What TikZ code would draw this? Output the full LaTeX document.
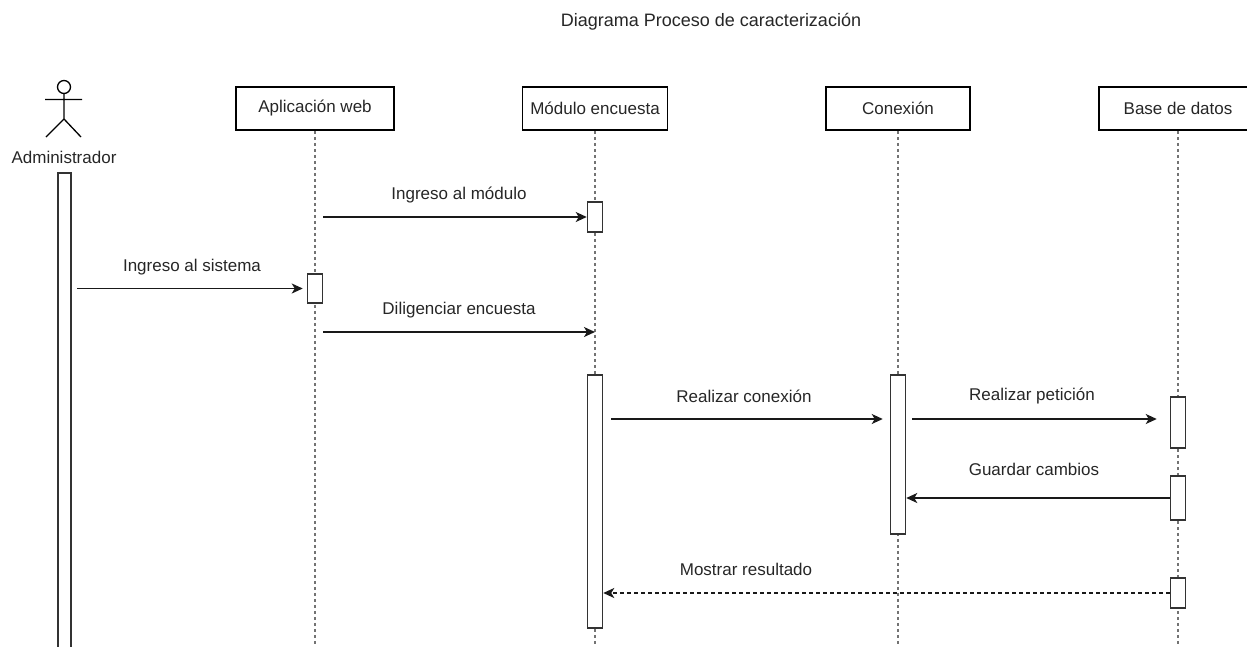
\documentclass[tikz,border=0pt]{standalone}
\usepackage{fontspec}
\setmainfont{Liberation Sans}
\usetikzlibrary{arrows.meta,calc,positioning}
\newcommand\lblfont{\fontsize{17}{20}\selectfont}
\newcommand\titlefont{\fontsize{18}{21}\selectfont}
\tikzset{
	actor/.pic={
		\draw[line width=1.3pt] (0,0) circle (6.5pt);
		\draw[line width=1.3pt] (0,6.5) -- (0,32) (-19,12.5) -- (18,12.5)
		(-18,50) -- (0,32) -- (17,50);
	},
}
\begin{document}
\begin{tikzpicture}[x=1pt, y=-1pt, >={Stealth[length=11pt,width=10pt,inset=3pt]},
	lifebox/.style={draw, line width=1.5pt, minimum height=43pt, inner sep=0pt, font=\lblfont, text=black!85},
	lifeline/.style={line width=1.7pt, black!55, dash pattern=on 3pt off 3pt},
	actbar/.style={draw, line width=1.5pt, black!80, fill=white, minimum width=15pt, inner sep=0pt},
	msg/.style={->, line width=1.7pt, black!90},
	reply/.style={msg, dash pattern=on 4pt off 3pt},
	lbl/.style={font=\lblfont, text=black!85}]
\useasboundingbox (0,0) rectangle (1247,646);
\coordinate (bot) at (0,652);

% the title
\node[font=\titlefont, text=black!85] (title) at (711,22) {Diagrama Proceso de caracterización};

% the heads
\path (64,87) pic {actor};
\node[lbl] (admin) at (64,157) {Administrador};
\node[lifebox, minimum width=158pt] (app) at (315,108.5) {Aplicación web};
\node[lifebox, minimum width=145pt] (mod) at (595,108.5) {Módulo encuesta};
\node[lifebox, minimum width=144pt] (con) at (898,108.5) {Conexión};
\node[lifebox, minimum width=158pt] (db) at (1178,108.5) {Base de datos};

% the lifelines
\foreach \L in {app,mod,con,db}
	\draw[lifeline] (\L.south) -- (\L.south |- bot);

% the activations
\node[actbar, minimum width=13pt, minimum height=485pt] (adminact) at (64.5,415.5) {};
\node[actbar, minimum height=29pt] (appact) at (315,288.5) {};
\node[actbar, minimum height=30pt] (modact1) at (595,217) {};
\node[actbar, minimum height=253pt] (modact2) at (595,501.5) {};
\node[actbar, minimum height=159pt] (conact) at (898,454.5) {};
\node[actbar, minimum height=51pt] (dbact1) at (1178,422.5) {};
\node[actbar, minimum height=44pt] (dbact2) at (1178,498) {};
\node[actbar, minimum height=30pt] (dbact3) at (1178,593) {};

% the arrows
\coordinate (s1) at (323,217);
\coordinate (s2) at (77,288.5);
\coordinate (s3) at (323,332);
\coordinate (s4) at (611,419);
\coordinate (s5) at (912,419);
\draw[msg] (s1) -- (modact1);
\draw[msg, shorten >=4pt] (s2) -- (appact);
\draw[msg] (s3) -- (mod.south |- s3);
\draw[msg, shorten >=7pt] (s4) -- (conact.west |- s4);
\draw[msg, shorten >=13pt] (s5) -- (dbact1.west |- s5);
\draw[msg] (dbact2.west) -- (conact.east |- dbact2.west);
\draw[reply] (dbact3.west) -- (modact2.east |- dbact3.west);

%the names
\node[lbl] (m1) at (459,195) {Ingreso al módulo};
\node[lbl] (m2) at (192,267) {Ingreso al sistema};
\node[lbl] (m3) at (459,310) {Diligenciar encuesta};
\node[lbl] (m4) at (744,396) {Realizar conexión};
\node[lbl] (m5) at (1032,396) {Realizar petición};
\node[lbl] (m6) at (1034,469) {Guardar cambios};
\node[lbl] (m7) at (746,569) {Mostrar resultado};
\end{tikzpicture}
\end{document}
